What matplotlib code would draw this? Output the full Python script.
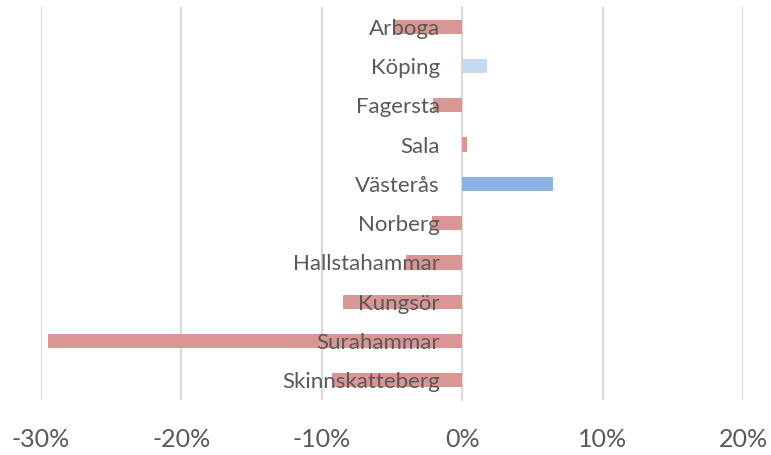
import matplotlib
matplotlib.use("Agg")
import matplotlib.pyplot as plt
from matplotlib.ticker import FuncFormatter

# kommuner, top to bottom
kommuner = ["Arboga", "Köping", "Fagersta", "Sala", "Västerås",
            "Norberg", "Hallstahammar", "Kungsör", "Surahammar", "Skinnskatteberg"]
# change (fraction)
values = [-0.048, 0.0176, -0.0205, 0.0033, 0.0648,
          -0.0214, -0.040, -0.085, -0.295, -0.093]
colors = ["#D99694", "#C6D9F1", "#D99694", "#D99694", "#8EB4E3",
          "#D99694", "#D99694", "#D99694", "#D99694", "#D99694"]
xticks = [-0.3, -0.2, -0.1, 0.0, 0.1, 0.2]

plt.rcParams["font.family"] = ["Lato", "DejaVu Sans"]

fig = plt.figure(figsize=(7.71, 4.55), dpi=100)
ax = fig.add_axes([41 / 771, 1 - 400 / 455, 702 / 771, 393 / 455])

ypos = list(range(len(kommuner)))
ax.barh(ypos, values, height=0.36, color=colors, zorder=1)

ax.set_xlim(-0.30, 0.20)
ax.set_ylim(len(kommuner) - 0.5, -0.5)
ax.set_xticks(xticks)
ax.xaxis.set_major_formatter(FuncFormatter(lambda v, p: f"{v * 100:.0f}%"))
ax.grid(axis="x", color="#D9D9D9", linewidth=1.5)
ax.set_axisbelow(True)
# category labels sit on top of the bars
ax.yaxis.set_zorder(3)

for s in ["top", "right", "bottom"]:
    ax.spines[s].set_visible(False)
ax.spines["left"].set_position(("data", 0))
ax.spines["left"].set_color("#D9D9D9")
ax.spines["left"].set_linewidth(1.5)
ax.spines["left"].set_zorder(0.6)

ax.set_yticks(ypos)
ax.set_yticklabels(kommuner)
ax.tick_params(axis="y", length=0, pad=16, labelsize=16, labelcolor="#595959")
ax.tick_params(axis="x", length=0, pad=20, labelsize=18, labelcolor="#595959")

fig.savefig("out.png", dpi=100)
